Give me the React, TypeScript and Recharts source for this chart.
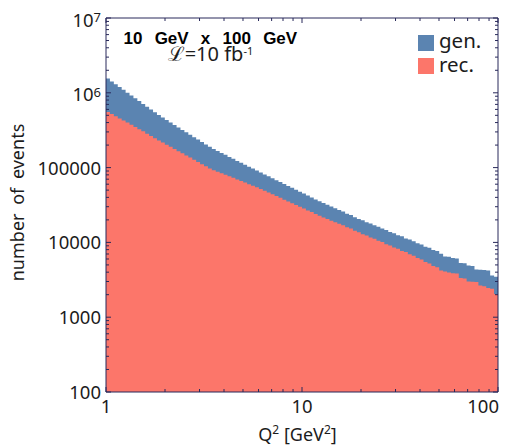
import { ComposedChart, Area, XAxis, YAxis } from 'recharts';

const FRAME = '#28295a';
const INK = '#1c1c1c';
const FONT = '"Noto Sans", sans-serif';
const GEN_COLOR = '#5b84b1';
const REC_COLOR = '#fc766a';

// 100 log-spaced Q2 bins between 1 and 100 GeV^2
const binEdges = Array.from({ length: 101 }, (_, i) => Math.pow(10, i / 50));

const genCounts = [
  1550000, 1420000, 1300000, 1195000, 1095000, 1005000, 921000, 845000, 775000, 711000,
  652000, 598000, 549000, 506000, 468000, 433000, 401000, 371000, 344000, 319000,
  296000, 275000, 255000, 237000, 220000, 204000, 190000, 177000, 167000, 157000,
  148000, 139000, 131000, 123000, 116000, 109000, 103000, 97000, 91400, 86100,
  81100, 76400, 71900, 67900, 64000, 60300, 56900, 53600, 50500, 47600,
  44900, 42300, 39900, 37600, 35600, 33700, 31900, 30200, 28600, 27100,
  25900, 24100, 23300, 21700, 20600, 19800, 18600, 17900, 16900, 16200,
  15300, 14700, 13800, 13300, 12500, 12100, 11300, 10950, 10400, 9750,
  9400, 8750, 8450, 7900, 7650, 7030, 6500, 6450, 6200, 6100,
  5300, 5250, 4900, 4850, 4350, 4300, 4280, 4200, 3600, 3480,
];

const recCounts = [
  555000, 519000, 486000, 455000, 427000, 400000, 373000, 349000, 326000, 305000,
  284000, 264000, 246000, 230000, 216000, 202000, 190000, 177000, 166000, 155000,
  145000, 136000, 127000, 119000, 111000, 104000, 97300, 92000, 87900, 83900,
  80000, 76400, 72900, 69300, 66100, 63000, 60000, 57100, 54500, 51900,
  49100, 46500, 43900, 41600, 39400, 37200, 35300, 33400, 31600, 29900,
  28300, 26800, 25400, 24000, 22700, 21600, 20600, 19500, 18600, 17700,
  16900, 15900, 15300, 14300, 13700, 12900, 12400, 11600, 11200, 10500,
  10100, 9450, 9120, 8550, 8230, 7700, 7420, 6950, 6650, 6180,
  5900, 5450, 5230, 4850, 4650, 4210, 4080, 3950, 3880, 3850,
  3330, 3300, 3000, 2980, 2950, 2650, 2600, 2450, 2400, 2040,
];

const xMajorTicks = [1, 10, 100];
const xTickLabels = ['1', '10', '100'];
const xMinorTicks = [2, 3, 4, 5, 6, 7, 8, 9, 20, 30, 40, 50, 60, 70, 80, 90];

const yMajorTicks = [100, 1000, 10000, 100000, 1000000, 10000000];
const yTickLabels = [['100', ''], ['1000', ''], ['10000', ''], ['100000', ''], ['10', '6'], ['10', '7']];
const yMinorSteps = [2, 3, 4, 5, 6, 7, 8, 9];

const xTicks = [...xMajorTicks, ...xMinorTicks].sort((a, b) => a - b);
const yTicks = [
  ...yMajorTicks,
  ...yMajorTicks.slice(0, -1).flatMap((d) => yMinorSteps.map((k) => k * d)),
].sort((a, b) => a - b);

const data = binEdges.map((q, i) => ({
  q,
  gen: genCounts[Math.min(i, genCounts.length - 1)],
  rec: recCounts[Math.min(i, recCounts.length - 1)],
}));

const LeftTick = ({ x, y, payload }: any) => {
  const idx = yMajorTicks.indexOf(payload.value);
  const major = idx >= 0;
  const [base, sup] = major ? yTickLabels[idx] : ['', ''];
  return (
    <g>
      <line x1={x} x2={x + (major ? 5 : 3)} y1={y} y2={y} stroke={FRAME} />
      {major && (
        <text x={x - 5} y={y + (sup ? 8.5 : 7)} textAnchor="end" fontSize={18.5} fontFamily={FONT} fill={INK}>
          {base}
          {sup && <tspan fontSize={13} dy={-4.5}>{sup}</tspan>}
        </text>
      )}
    </g>
  );
};

const RightTick = ({ x, y, payload }: any) => {
  const major = yMajorTicks.includes(payload.value);
  return <line x1={x} x2={x - (major ? 5 : 3)} y1={y} y2={y} stroke={FRAME} />;
};

const BottomTick = ({ x, y, payload }: any) => {
  const idx = xMajorTicks.indexOf(payload.value);
  const major = idx >= 0;
  const last = idx === xMajorTicks.length - 1;
  return (
    <g>
      <line x1={x} x2={x} y1={y} y2={y - (major ? 5 : 3)} stroke={FRAME} />
      {major && (
        <text x={last ? x + 1 : x} y={y + 21} textAnchor={last ? 'end' : 'middle'} fontSize={18.5} fontFamily={FONT} fill={INK}>
          {xTickLabels[idx]}
        </text>
      )}
    </g>
  );
};

const TopTick = ({ x, y, payload }: any) => {
  const major = xMajorTicks.includes(payload.value);
  return <line x1={x} x2={x} y1={y} y2={y + (major ? 5 : 3)} stroke={FRAME} />;
};

export default function App() {
  return (
    <div style={{ position: 'absolute', left: 0, top: 0, width: 505, height: 448, background: '#fff' }}>
      <ComposedChart width={505} height={448} data={data} margin={{ top: 17, right: 6, bottom: 0, left: 0 }}>
        <Area
          type="stepAfter"
          dataKey="gen"
          fill={GEN_COLOR}
          fillOpacity={1}
          stroke="none"
          baseValue="dataMin"
          dot={false}
          activeDot={false}
          isAnimationActive={false}
        />
        <Area
          type="stepAfter"
          dataKey="rec"
          fill={REC_COLOR}
          fillOpacity={1}
          stroke="none"
          baseValue="dataMin"
          dot={false}
          activeDot={false}
          isAnimationActive={false}
        />
        {/* invisible copy bound to the mirror axes so the frame's top and right sides get drawn */}
        <Area
          xAxisId="top"
          yAxisId="right"
          type="stepAfter"
          dataKey="gen"
          fill="none"
          fillOpacity={0}
          stroke="none"
          baseValue="dataMin"
          dot={false}
          activeDot={false}
          isAnimationActive={false}
        />
        <XAxis
          dataKey="q"
          type="number"
          scale="log"
          domain={[1, 100]}
          allowDataOverflow
          ticks={xTicks}
          interval={0}
          height={56}
          tickSize={0}
          tickMargin={0}
          tickLine={false}
          axisLine={{ stroke: FRAME }}
          tick={BottomTick}
        />
        <XAxis
          xAxisId="top"
          orientation="top"
          dataKey="q"
          type="number"
          scale="log"
          domain={[1, 100]}
          allowDataOverflow
          ticks={xTicks}
          interval={0}
          height={1}
          tickSize={0}
          tickMargin={0}
          tickLine={false}
          axisLine={{ stroke: FRAME }}
          tick={TopTick}
        />
        <YAxis
          type="number"
          scale="log"
          domain={[100, 10000000]}
          allowDataOverflow
          ticks={yTicks}
          interval={0}
          width={106}
          tickSize={0}
          tickMargin={0}
          tickLine={false}
          axisLine={{ stroke: FRAME }}
          tick={LeftTick}
        />
        <YAxis
          yAxisId="right"
          orientation="right"
          type="number"
          scale="log"
          domain={[100, 10000000]}
          allowDataOverflow
          ticks={yTicks}
          interval={0}
          width={1}
          tickSize={0}
          tickMargin={0}
          tickLine={false}
          axisLine={{ stroke: FRAME }}
          tick={RightTick}
        />
      </ComposedChart>
      <svg width={505} height={448} style={{ position: 'absolute', left: 0, top: 0, pointerEvents: 'none' }}>
        <text
          x={123.5}
          y={44}
          fontFamily='"Liberation Sans", Arial, sans-serif'
          fontWeight="bold"
          fontSize={17}
          wordSpacing={7.5}
          fill="#000"
        >
          10 GeV x 100 GeV
        </text>
        <text x={168} y={61.3} fontFamily={FONT} fontSize={20} fill={INK}>
          {'\u2112=10 fb'}
          <tspan fontSize={11} dy={-6.5}>-1</tspan>
        </text>
        <rect x={418} y={35} width={16} height={16} fill={GEN_COLOR} />
        <rect x={418} y={58} width={16} height={16} fill={REC_COLOR} />
        <text x={439} y={48.3} fontFamily={FONT} fontSize={20.5} fill={INK}>gen.</text>
        <text x={439} y={71.7} fontFamily={FONT} fontSize={20.5} fill={INK}>rec.</text>
        <text
          transform="rotate(-90)"
          x={-202.5}
          y={24}
          textAnchor="middle"
          fontFamily={FONT}
          fontSize={18}
          wordSpacing={4}
          fill={INK}
        >
          number of events
        </text>
        <text x={297.5} y={441} textAnchor="middle" fontFamily={FONT} fontSize={18} fill={INK}>
          Q<tspan fontSize={12} dy={-7}>2</tspan>
          <tspan dy={7}> [GeV</tspan>
          <tspan fontSize={12} dy={-7}>2</tspan>
          <tspan dy={7}>]</tspan>
        </text>
      </svg>
    </div>
  );
}
